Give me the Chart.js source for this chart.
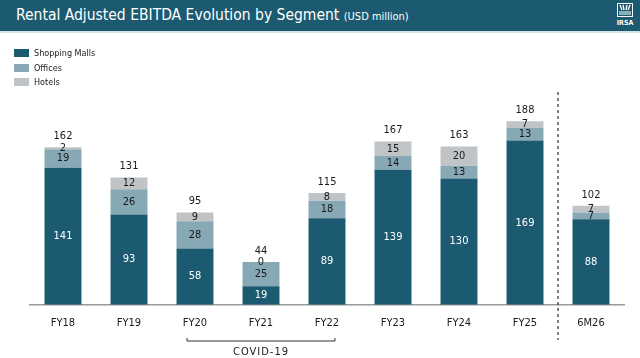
<!DOCTYPE html>
<html lang="en">
<head>
<meta charset="UTF-8">
<title>Rental Adjusted EBITDA Evolution by Segment</title>
<script src="https://cdn.jsdelivr.net/npm/chart.js"></script>
<style>
  body { margin: 0; width: 640px; height: 358px; background: #fff; position: relative; overflow: hidden;
         font-family: 'DejaVu Sans Condensed', 'Liberation Sans Narrow', Roboto, sans-serif; }
  #cabecera { position: absolute; left: 0; top: 0; width: 640px; height: 31px; background: #1b5a70;
              border-bottom: 2px solid #d3e3e8; }
  #titulo { position: absolute; left: 16px; top: 6px; color: #fff; font-size: 15.5px; white-space: nowrap; }
  #titulo small { font-size: 11px; }
  #logo { position: absolute; right: 6px; top: 3px; width: 18px; color: #fff; text-align: center;
          font-size: 7px; font-weight: bold; line-height: 8px; }
  #leyenda { position: absolute; left: 14px; top: 46px; font-size: 9px; color: #222; }
  .item { height: 14.5px; display: flex; align-items: center; }
  .caja { width: 15px; height: 8px; margin-right: 5px; }
  canvas { position: absolute; left: 0; top: 0; }
</style>
</head>
<body>
  <canvas id="grafica" width="640" height="358"></canvas>
  <div id="cabecera">
    <div id="titulo">Rental Adjusted EBITDA Evolution by Segment <small>(USD million)</small></div>
    <div id="logo">
      <svg width="16" height="14" viewBox="0 0 16 14">
        <rect x="0.5" y="0.5" width="15" height="13" fill="none" stroke="#fff" stroke-width="1"/>
        <path d="M3 2 L5 7 M6 2 L7 7 M10 2 L9 7 M13 2 L11 7" stroke="#fff" stroke-width="1.3"/>
        <path d="M2 9 H14 M2 11 H14" stroke="#fff" stroke-width="1"/>
      </svg>
      <div>IRSA</div>
    </div>
  </div>
  <div id="leyenda"></div>

  <script>
    // Datos
    const categorias = ['FY18', 'FY19', 'FY20', 'FY21', 'FY22', 'FY23', 'FY24', 'FY25', '6M26'];
    const shoppingMalls = [141, 93, 58, 19, 89, 139, 130, 169, 88];
    const oficinas = [19, 26, 28, 25, 18, 14, 13, 13, 7];
    const hoteles = [2, 12, 9, 0, 8, 15, 20, 7, 7];
    const totales = [162, 131, 95, 44, 115, 167, 163, 188, 102];

    const series = [
      { label: 'Shopping Malls', data: shoppingMalls, color: '#1b5a70', texto: '#ffffff' },
      { label: 'Offices', data: oficinas, color: '#87a9b6', texto: '#1a1a1a' },
      { label: 'Hotels', data: hoteles, color: '#c0c4c6', texto: '#1a1a1a' }
    ];

    // Leyenda en HTML
    const leyenda = document.getElementById('leyenda');
    series.forEach(s => {
      leyenda.innerHTML += `<div class="item"><div class="caja" style="background:${s.color}"></div>${s.label}</div>`;
    });

    const fuente = "'DejaVu Sans Condensed', 'Liberation Sans Narrow', Roboto, sans-serif";

    // Etiquetas de valores, linea punteada y llave COVID-19
    const etiquetas = {
      id: 'etiquetas',
      afterDatasetsDraw(chart) {
        const ctx = chart.ctx;
        ctx.save();
        ctx.textAlign = 'center';
        ctx.textBaseline = 'middle';
        ctx.font = `11px ${fuente}`;
        series.forEach((s, i) => {
          const meta = chart.getDatasetMeta(i);
          meta.data.forEach((bar, j) => {
            ctx.fillStyle = s.texto;
            ctx.fillText(String(s.data[j]), bar.x, (bar.y + bar.base) / 2);
          });
        });
        const arriba = chart.getDatasetMeta(2).data;
        ctx.fillStyle = '#1a1a1a';
        arriba.forEach((bar, j) => {
          ctx.fillText(String(totales[j]), bar.x, bar.y - 11);
        });

        const x = chart.scales.x;
        // linea punteada entre FY25 y 6M26
        const xd = (x.getPixelForValue(7) + x.getPixelForValue(8)) / 2;
        ctx.strokeStyle = '#555';
        ctx.lineWidth = 1.5;
        ctx.setLineDash([3, 3]);
        ctx.beginPath();
        ctx.moveTo(xd, 92);
        ctx.lineTo(xd, 340);
        ctx.stroke();
        ctx.setLineDash([]);

        // llave COVID-19
        const x1 = x.getPixelForValue(2) - 8, x2 = x.getPixelForValue(4) + 8;
        ctx.strokeStyle = '#333';
        ctx.lineWidth = 1;
        ctx.beginPath();
        ctx.moveTo(x1, 338);
        ctx.lineTo(x1, 341);
        ctx.lineTo(x2, 341);
        ctx.lineTo(x2, 338);
        ctx.stroke();
        ctx.fillStyle = '#1a1a1a';
        ctx.font = `11px ${fuente}`;
        if ('letterSpacing' in ctx) ctx.letterSpacing = '1px';
        ctx.fillText('COVID-19', x.getPixelForValue(3), 352);
        ctx.restore();
      }
    };

    new Chart(document.getElementById('grafica'), {
      type: 'bar',
      data: {
        labels: categorias,
        datasets: series.map(s => ({
          label: s.label,
          data: s.data,
          backgroundColor: s.color,
          barPercentage: 0.56,
          categoryPercentage: 1
        }))
      },
      options: {
        responsive: false,
        animation: false,
        layout: { padding: { left: 30, right: 16, top: 91, bottom: 24 } },
        plugins: { legend: { display: false }, tooltip: { enabled: false } },
        scales: {
          x: {
            stacked: true,
            grid: { display: false },
            border: { color: '#9a9a9a', width: 1.5 },
            ticks: { color: '#1a1a1a', font: { family: fuente, size: 11 }, padding: 4 }
          },
          y: { stacked: true, display: false, min: 0, max: 220 }
        }
      },
      plugins: [etiquetas]
    });
  </script>
</body>
</html>
